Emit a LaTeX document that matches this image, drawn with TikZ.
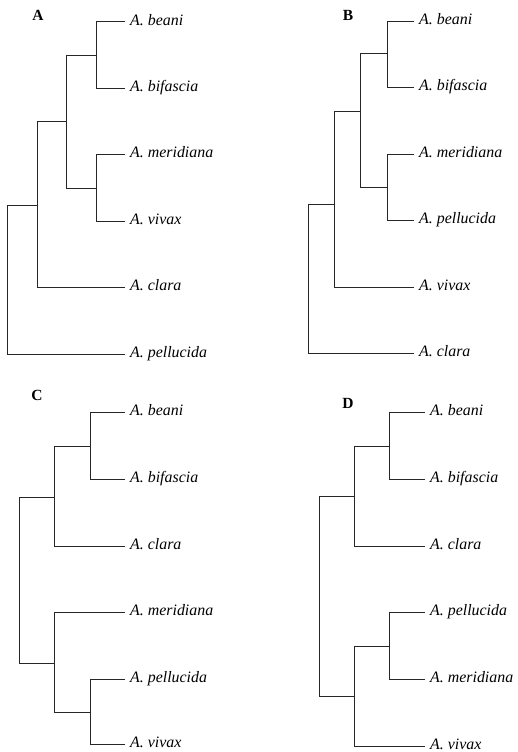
\documentclass[tikz,border=0pt]{standalone}
\usepackage{fontspec}
\setmainfont{Liberation Serif}
\begin{document}
\begin{tikzpicture}[x=1pt,y=-1pt,
  branch/.style={draw=black!85,line width=0.9pt},
  taxon/.style={anchor=base west,yshift=-3.4pt,inner xsep=5pt,inner ysep=0pt,
                font=\fontsize{15.9}{17}\selectfont\itshape},
  panel/.style={font=\fontsize{15.5}{17}\selectfont\bfseries,inner sep=0pt}]
\useasboundingbox (0,0) rectangle (517,752);

% ---------- Tree A ----------
\node[panel] (labA) at (38,15) {A};
\coordinate (a1) at (125,21.7);  \node[taxon] (ta1) at (a1) {A. beani};
\coordinate (a2) at (125,88);    \node[taxon] (ta2) at (a2) {A. bifascia};
\coordinate (a3) at (125,154);   \node[taxon] (ta3) at (a3) {A. meridiana};
\coordinate (a4) at (125,221);   \node[taxon] (ta4) at (a4) {A. vivax};
\coordinate (a5) at (125,287);   \node[taxon] (ta5) at (a5) {A. clara};
\coordinate (a6) at (125,354);   \node[taxon] (ta6) at (a6) {A. pellucida};
\coordinate (nA1) at (96,55);
\coordinate (nA2) at (96,188);
\coordinate (nA3) at (66,121);
\coordinate (nA4) at (37,205);
\coordinate (rA)  at (7,280);
\draw[branch] (nA1) |- (a1) (nA1) |- (a2);
\draw[branch] (nA2) |- (a3) (nA2) |- (a4);
\draw[branch] (nA3) |- (nA1) (nA3) |- (nA2);
\draw[branch] (nA4) |- (nA3) (nA4) |- (a5);
\draw[branch] (rA) |- (nA4) (rA) |- (a6);

% ---------- Tree B ----------
\node[panel] (labB) at (348,15) {B};
\coordinate (b1) at (414,21);   \node[taxon] (tb1) at (b1) {A. beani};
\coordinate (b2) at (414,87);   \node[taxon] (tb2) at (b2) {A. bifascia};
\coordinate (b3) at (414,154);  \node[taxon] (tb3) at (b3) {A. meridiana};
\coordinate (b4) at (414,220);  \node[taxon] (tb4) at (b4) {A. pellucida};
\coordinate (b5) at (414,287);  \node[taxon] (tb5) at (b5) {A. vivax};
\coordinate (b6) at (414,353);  \node[taxon] (tb6) at (b6) {A. clara};
\coordinate (nB1) at (387,53);
\coordinate (nB2) at (387,187);
\coordinate (nB3) at (360,111);
\coordinate (nB4) at (334,204);
\coordinate (rB)  at (308,280);
\draw[branch] (nB1) |- (b1) (nB1) |- (b2);
\draw[branch] (nB2) |- (b3) (nB2) |- (b4);
\draw[branch] (nB3) |- (nB1) (nB3) |- (nB2);
\draw[branch] (nB4) |- (nB3) (nB4) |- (b5);
\draw[branch] (rB) |- (nB4) (rB) |- (b6);

% ---------- Tree C ----------
\node[panel] (labC) at (37,395) {C};
\coordinate (c1) at (125,412);  \node[taxon] (tc1) at (c1) {A. beani};
\coordinate (c2) at (125,479);  \node[taxon] (tc2) at (c2) {A. bifascia};
\coordinate (c3) at (125,546);  \node[taxon] (tc3) at (c3) {A. clara};
\coordinate (c4) at (125,612);  \node[taxon] (tc4) at (c4) {A. meridiana};
\coordinate (c5) at (125,679);  \node[taxon] (tc5) at (c5) {A. pellucida};
\coordinate (c6) at (125,744);  \node[taxon] (tc6) at (c6) {A. vivax};
\coordinate (nC1) at (90,446);
\coordinate (nC2) at (54,497);
\coordinate (nC3) at (90,712);
\coordinate (nC4) at (54,663);
\coordinate (rC)  at (19,580);
\draw[branch] (nC1) |- (c1) (nC1) |- (c2);
\draw[branch] (nC2) |- (nC1) (nC2) |- (c3);
\draw[branch] (nC3) |- (c5) (nC3) |- (c6);
\draw[branch] (nC4) |- (c4) (nC4) |- (nC3);
\draw[branch] (rC) |- (nC2) (rC) |- (nC4);

% ---------- Tree D ----------
\node[panel] (labD) at (348,403) {D};
\coordinate (d1) at (425,412);  \node[taxon] (td1) at (d1) {A. beani};
\coordinate (d2) at (425,479);  \node[taxon] (td2) at (d2) {A. bifascia};
\coordinate (d3) at (425,546);  \node[taxon] (td3) at (d3) {A. clara};
\coordinate (d4) at (425,612);  \node[taxon] (td4) at (d4) {A. pellucida};
\coordinate (d5) at (425,679);  \node[taxon] (td5) at (d5) {A. meridiana};
\coordinate (d6) at (425,746);  \node[taxon] (td6) at (d6) {A. vivax};
\coordinate (nD1) at (389,446);
\coordinate (nD2) at (354,496);
\coordinate (nD3) at (389,646);
\coordinate (nD4) at (354,696);
\coordinate (rD)  at (319,596);
\draw[branch] (nD1) |- (d1) (nD1) |- (d2);
\draw[branch] (nD2) |- (nD1) (nD2) |- (d3);
\draw[branch] (nD3) |- (d4) (nD3) |- (d5);
\draw[branch] (nD4) |- (nD3) (nD4) |- (d6);
\draw[branch] (rD) |- (nD2) (rD) |- (nD4);
\end{tikzpicture}
\end{document}
